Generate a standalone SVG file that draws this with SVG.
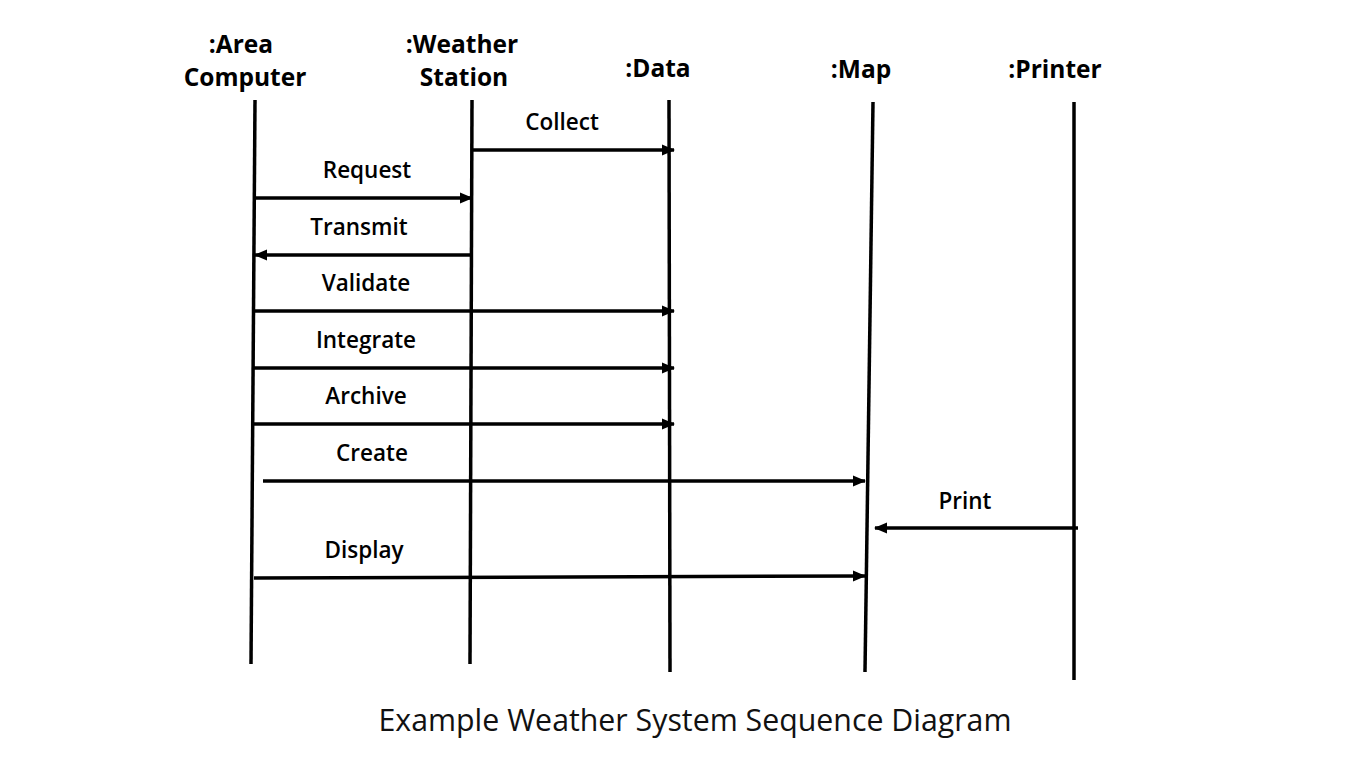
<svg xmlns="http://www.w3.org/2000/svg" width="1366" height="768" viewBox="0 0 1366 768">
<style>
.hd{font-family:"Open Sans","Noto Sans",sans-serif;font-weight:700;font-size:24.5px;fill:#000;text-anchor:middle}
.lb{font-family:"Open Sans","Noto Sans",sans-serif;font-weight:600;font-size:22.5px;fill:#000;text-anchor:middle}
.life{stroke:#000;stroke-width:3.5;fill:none}
.msg{stroke:#000;stroke-width:3.5;fill:none;marker-end:url(#ah)}
.title{font-family:"Open Sans","Noto Sans",sans-serif;font-weight:400;font-size:30.3px;fill:#111;text-anchor:middle}
</style>
<defs>
<marker id="ah" markerUnits="userSpaceOnUse" markerWidth="13" markerHeight="13" viewBox="0 0 13 13" refX="12" refY="6.5" orient="auto">
<path d="M0,1 L13,6.5 L0,12 Z" fill="#000"/>
</marker>
</defs>
<rect width="1366" height="768" fill="#fff"/>
<g id="area-computer">
<text class="hd" x="241" y="53">:Area</text>
<text class="hd" x="245" y="86">Computer</text>
<line class="life" x1="255" y1="100" x2="251" y2="664"/>
</g>
<g id="weather-station">
<text class="hd" x="462" y="53">:Weather</text>
<text class="hd" x="464" y="86">Station</text>
<line class="life" x1="472" y1="100" x2="470" y2="664"/>
</g>
<g id="data">
<text class="hd" x="658" y="77">:Data</text>
<line class="life" x1="669" y1="100" x2="670" y2="672"/>
</g>
<g id="map">
<text class="hd" x="861" y="78">:Map</text>
<line class="life" x1="873" y1="102" x2="865" y2="672"/>
</g>
<g id="printer">
<text class="hd" x="1055" y="78">:Printer</text>
<line class="life" x1="1074" y1="102" x2="1074" y2="680"/>
</g>
<g id="connectors">
<line class="msg" x1="472" y1="150" x2="674" y2="150"/>
<text class="lb" x="562" y="130">Collect</text>
<line class="msg" x1="255" y1="198" x2="472" y2="198"/>
<text class="lb" x="367" y="178">Request</text>
<line class="msg" x1="472" y1="255" x2="255" y2="255"/>
<text class="lb" x="359" y="235">Transmit</text>
<line class="msg" x1="254" y1="311" x2="674" y2="311"/>
<text class="lb" x="366" y="291">Validate</text>
<line class="msg" x1="253" y1="368" x2="674" y2="368"/>
<text class="lb" x="366" y="348">Integrate</text>
<line class="msg" x1="253" y1="424" x2="674" y2="424"/>
<text class="lb" x="366" y="404">Archive</text>
<line class="msg" x1="263" y1="481" x2="865" y2="481"/>
<text class="lb" x="372" y="461">Create</text>
<line class="msg" x1="1078" y1="528" x2="875" y2="528"/>
<text class="lb" x="965" y="509">Print</text>
<line class="msg" x1="254" y1="578" x2="865" y2="576"/>
<text class="lb" x="364" y="558">Display</text>
</g>
<text class="title" x="695" y="731">Example Weather System Sequence Diagram</text>
</svg>
